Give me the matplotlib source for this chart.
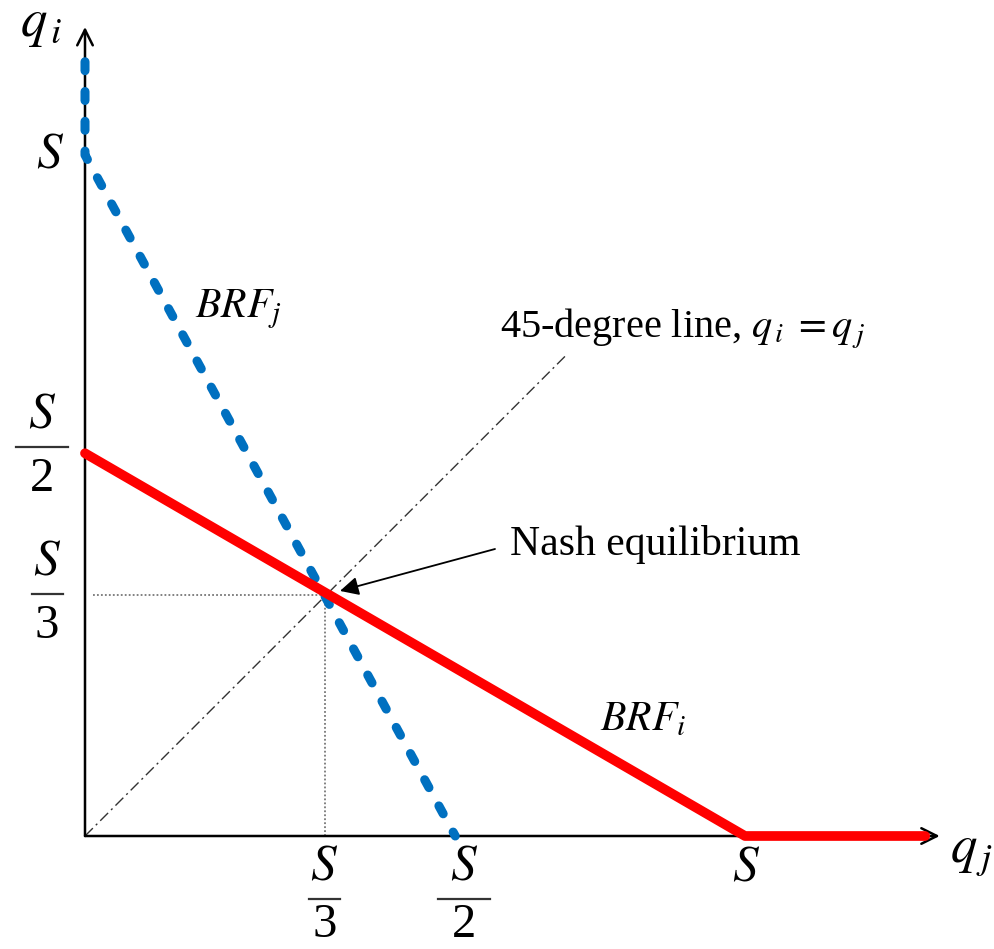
import matplotlib
matplotlib.use("Agg")
import matplotlib.pyplot as plt
from matplotlib.transforms import offset_copy

plt.rcParams['font.family'] = ['Liberation Serif', 'DejaVu Serif']
plt.rcParams['mathtext.fontset'] = 'stix'

# Positions of the labelled points on each axis, in units of S (as sketched)
qj_ticks = [0.364, 0.561, 1.0]
qj_dens = ['3', '2', None]
qi_ticks = [0.354, 0.562, 1.0]
qi_dens = ['3', '2', None]

# Best response functions
brf_i_qj = [0.0, 1.0, 1.273]
brf_i_qi = [0.562, 0.0, 0.0]
brf_j_qj = [0.0, 0.0, 0.561]
brf_j_qi = [1.137, 1.0, 0.0]

# 45-degree line end point and axis extents
diag_end = [0.729, 0.706]
qj_max = 1.295
qi_max = 1.188

fig = plt.figure(figsize=(9.94, 9.49), dpi=100)
ax = fig.add_axes([85 / 994, 113 / 949, 660 / 994, 681 / 949])
ax.set_xlim(0, 1)
ax.set_ylim(0, 1)
ax.axis('off')


def to_data(px, py):
    # pixel position in the figure -> data units
    return (px - 85) / 660, (836 - py) / 681


# axes with open arrow heads
arrow_kw = dict(arrowstyle='->', lw=1.8, color='black', mutation_scale=28,
                shrinkA=0, shrinkB=0)
ax.annotate('', xy=(qj_max, 0), xytext=(0, 0), arrowprops=arrow_kw, annotation_clip=False)
ax.annotate('', xy=(0, qi_max), xytext=(0, 0), arrowprops=arrow_kw, annotation_clip=False)

# 45-degree line
ax.plot([0, diag_end[0]], [0, diag_end[1]], color='#333333', lw=1.0,
        linestyle=(0, (8, 3, 1.5, 3)), clip_on=False)

# dotted guides to the equilibrium
ax.plot([0.012, qj_ticks[0]], [qi_ticks[0], qi_ticks[0]], color='#777777', lw=1.3,
        linestyle=(0, (1, 1.2)), clip_on=False)
ax.plot([qj_ticks[0], qj_ticks[0]], [0, qi_ticks[0]], color='#777777', lw=1.3,
        linestyle=(0, (1, 1.2)), clip_on=False)

# BRF_j (blue dashed) and BRF_i (red)
ax.plot(brf_j_qj, brf_j_qi, color='#0070c0', lw=6.5, linestyle=(0, (1.0, 2.3)),
        dash_capstyle='round', solid_joinstyle='round', clip_on=False, zorder=3)
ax.plot(brf_i_qj, brf_i_qi, color='#ff0000', lw=7, solid_capstyle='round',
        solid_joinstyle='round', clip_on=False, zorder=4)

math_fs = 37
text_fs = 30


def px_text(s, x, y, dx, dy, size=math_fs, ha='center', va='center'):
    ax.annotate(s, xy=(x, y), xytext=(dx, dy), textcoords='offset pixels',
                fontsize=size, ha=ha, va=va, annotation_clip=False)


def frac_label(x, y, den, dx, dy, bar_px, den_gap):
    # numerator S, fraction bar and denominator around (dx, dy) pixels from (x, y)
    px_text('$S$', x, y, dx, dy + 32)
    px_text(den, x, y, dx, dy - den_gap, size=35)
    tr = offset_copy(ax.transData, fig=fig, x=dx, y=dy, units='dots')
    half = bar_px / 2 / 660
    ax.plot([x - half, x + half], [y, y], transform=tr, color='#333333',
            lw=1.6, clip_on=False)


# tick labels on the q_j axis
qj_offsets = [(-1, -63, 31), (9, -63, 52), (1, -32, 0)]
for t, d, (dx, dy, w) in zip(qj_ticks, qj_dens, qj_offsets):
    if d is None:
        px_text('$S$', t, 0, dx, dy)
    else:
        frac_label(t, 0, d, dx, dy, w, 26)

# tick labels on the q_i axis
qi_offsets = [(-38, 1, 31), (-43, 6, 52), (-35, 0, 0)]
for t, d, (dx, dy, w) in zip(qi_ticks, qi_dens, qi_offsets):
    if d is None:
        px_text('$S$', 0, t, dx, dy)
    else:
        frac_label(0, t, d, dx, dy, w, 32)

# axis names
px_text('$q_{\\,i}$', 0, qi_max, -44, 2, size=38)
px_text('$q_{\\,j}$', qj_max, 0, 32, -18, size=38)

# curve labels
ax.text(*to_data(195, 317), '$BRF_j$', fontsize=text_fs, ha='left', va='baseline')
ax.text(*to_data(600, 730), '$BRF_i$', fontsize=text_fs, ha='left', va='baseline')
ax.text(*to_data(500, 338), '45-degree line, $q_{\\,i}\\;=q_{\\,j}$', fontsize=29,
        ha='left', va='baseline')

# Nash equilibrium callout
nash = (qj_ticks[0], qi_ticks[0])
ax.annotate('', xy=nash, xytext=to_data(495, 549),
            arrowprops=dict(arrowstyle='-|>', lw=1.3, color='black', mutation_scale=28,
                            shrinkA=0, shrinkB=11), annotation_clip=False)
ax.text(*to_data(510, 555), 'Nash equilibrium', fontsize=text_fs, ha='left', va='baseline')

fig.savefig('out.png', dpi=100)
